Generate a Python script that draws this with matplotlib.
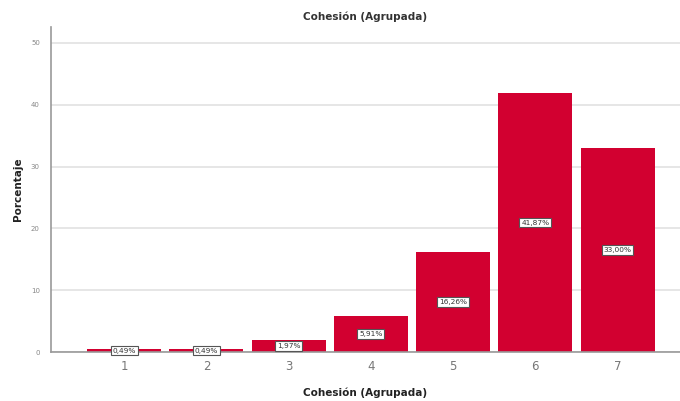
import matplotlib.pyplot as plt

categorias = [1, 2, 3, 4, 5, 6, 7]
porcentajes = [0.49, 0.49, 1.97, 5.91, 16.26, 41.87, 33.00]
etiquetas = ["0,49%", "0,49%", "1,97%", "5,91%", "16,26%", "41,87%", "33,00%"]
yticks = [0, 10, 20, 30, 40, 50]

fig = plt.figure(figsize=(6.8, 4.01), dpi=100)
ax = fig.add_axes([0.075, 0.122, 0.925, 0.811])

ax.bar(categorias, porcentajes, width=0.9, color="#d20030", zorder=2)

# value boxes centred on each bar
for x, y, txt in zip(categorias, porcentajes, etiquetas):
    ax.text(x, y / 2, txt, ha="center", va="center", fontsize=5.3, color="#333333",
            bbox=dict(boxstyle="square,pad=0.25", fc="white", ec="#555555", lw=0.8),
            zorder=3)

ax.set_xlim(0.11, 7.76)
ax.set_ylim(0, 52.6)
ax.set_yticks(yticks)
ax.set_xticks(categorias)
ax.set_yticklabels([str(v) for v in yticks], fontsize=5, color="#888888")
ax.set_xticklabels([str(v) for v in categorias], fontsize=8.5, color="#777777")
ax.tick_params(axis="both", length=0)
ax.tick_params(axis="y", pad=8)
ax.tick_params(axis="x", pad=6)

ax.grid(axis="y", color="#e2e2e2", lw=1.2, zorder=0)
for s in ["top", "right"]:
    ax.spines[s].set_visible(False)
ax.spines["left"].set_color("#999999")
ax.spines["left"].set_linewidth(1.2)
ax.spines["bottom"].set_color("#999999")
ax.spines["bottom"].set_linewidth(1.2)

ax.set_title("Cohesión (Agrupada)", fontsize=7.5, fontweight="bold", color="#333333", pad=5)
ax.set_ylabel("Porcentaje", fontsize=7.5, fontweight="bold", color="#222222", labelpad=6)
ax.set_xlabel("Cohesión (Agrupada)", fontsize=7.5, fontweight="bold", color="#222222", labelpad=10)

fig.savefig("out.png", dpi=100)
